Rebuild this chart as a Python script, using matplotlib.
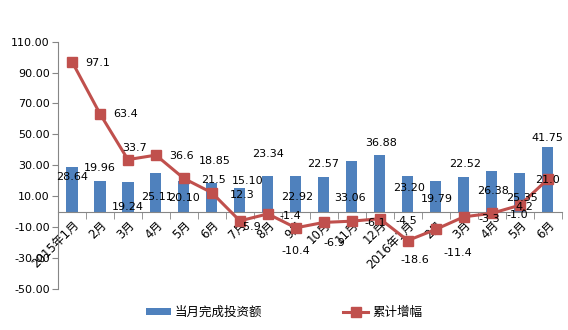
import numpy as np
import matplotlib.pyplot as plt
from matplotlib.ticker import FixedLocator

plt.rcParams['font.family'] = ['DejaVu Sans', 'Noto Sans CJK SC']
plt.rcParams['axes.unicode_minus'] = False

# 月份
months = ['2015年1月', '2月', '3月', '4月', '5月', '6月', '7月', '8月', '9月',
          '10月', '11月', '12月', '2016年1月', '2月', '3月', '4月', '5月', '6月']
# 当月完成投资额
invest = [28.64, 19.96, 19.24, 25.11, 20.10, 18.85, 15.10, 23.34, 22.92,
          22.57, 33.06, 36.88, 23.20, 19.79, 22.52, 26.38, 25.35, 41.75]
# 累计增幅
growth = [97.1, 63.4, 33.7, 36.6, 21.5, 12.3, -5.9, -1.4, -10.4,
          -6.9, -6.1, -4.5, -18.6, -11.4, -3.3, -1.0, 4.2, 21.0]

# 数据标签偏移（像素）
bar_off = [(0, -10), (0, 13), (0, -25), (1, -24), (0, -17), (3, 22), (8, 7), (0, 22), (1, -21),
           (-1, 13), (-2, -37), (1, 12), (1, -12), (1, -18), (1, 13), (1, -20), (2, -25), (0, 9)]
line_off = [(26, -1), (26, 0), (7, 12), (26, -1), (30, -2), (30, -2), (10, -6), (22, -2), (0, -23),
            (10, -21), (23, -2), (27, -2), (7, -19), (22, -24), (25, -2), (25, -2), (5, -2), (0, -1)]

blue = '#4F81BD'
red = '#C0504D'

fig = plt.figure(figsize=(5.68, 3.30), dpi=100)
ax = fig.add_axes([0.102, 0.124, 0.887, 0.750])

x = np.arange(len(months))
bars = ax.bar(x, invest, width=0.4, color=blue, label='当月完成投资额', zorder=2)
line, = ax.plot(x, growth, color=red, lw=2.2, marker='s', ms=7, label='累计增幅', zorder=3)

for i, v in enumerate(invest):
    ax.annotate('%.2f' % v, (x[i], v), xytext=bar_off[i], textcoords='offset pixels',
                ha='center', va='center', fontsize=8, zorder=4)
for i, v in enumerate(growth):
    ax.annotate('%.1f' % v, (x[i], v), xytext=line_off[i], textcoords='offset pixels',
                ha='center', va='center', fontsize=8, zorder=4)

ax.set_xlim(-0.5, len(months) - 0.5)
ax.set_ylim(-50, 110)
ax.set_yticks(np.arange(-50, 111, 20))
ax.set_yticklabels(['%.2f' % t for t in np.arange(-50, 111, 20)], fontsize=8)

# 横轴放在0处
ax.spines['bottom'].set_position(('data', 0))
ax.spines['top'].set_visible(False)
ax.spines['right'].set_visible(False)
ax.spines['left'].set_color('#868686')
ax.spines['bottom'].set_color('#868686')
ax.tick_params(axis='y', length=4, color='#868686', pad=2)

ax.set_xticks(x)
ax.set_xticklabels(months, rotation=45, ha='right', va='top', rotation_mode='anchor', fontsize=8.5)
ax.tick_params(axis='x', which='major', length=0, pad=5)
ax.xaxis.set_minor_locator(FixedLocator(np.arange(-0.5, len(months), 1)))
ax.tick_params(axis='x', which='minor', length=5, color='#868686')

fig.legend(handles=[bars, line], loc='lower center', bbox_to_anchor=(0.5, 0.0),
           ncol=2, frameon=False, fontsize=9, handlelength=2.0, handleheight=0.55,
           columnspacing=6.5, handletextpad=0.3)

fig.savefig('out.png', dpi=100)
